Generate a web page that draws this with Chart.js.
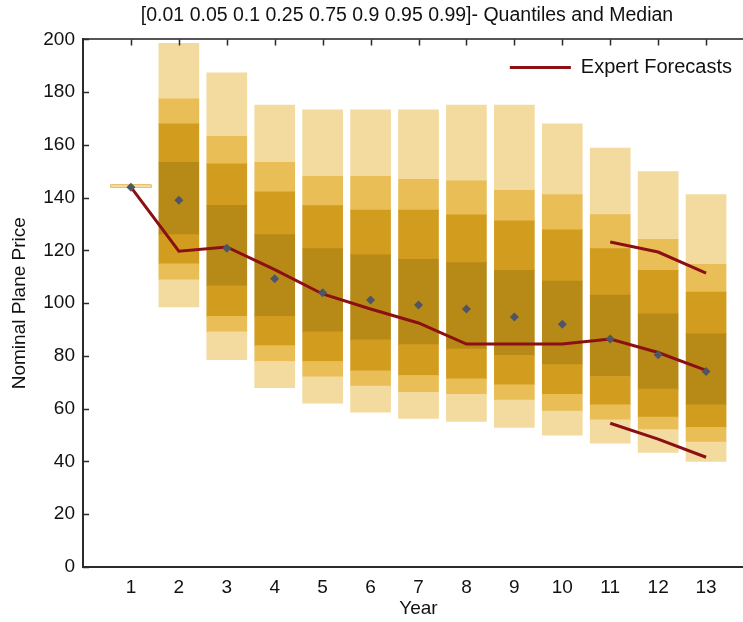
<!DOCTYPE html>
<html>
<head>
<meta charset="utf-8">
<script src="https://cdn.jsdelivr.net/npm/chart.js@4/dist/chart.umd.min.js"></script>
<style>
  html, body { margin: 0; padding: 0; background: #fff; overflow: hidden; }
  #marco { position: relative; width: 814px; height: 622px; }
</style>
</head>
<body>
<div id="marco"><canvas id="grafico"></canvas></div>
<script>
/* Datos */
var anios = [1, 2, 3, 4, 5, 6, 7, 8, 9, 10, 11, 12, 13];
var q01 = [144, 98.6, 78.6, 68.0, 62.1, 58.7, 56.3, 55.2, 52.9, 50.0, 46.9, 43.4, 40.0];
var q05 = [144, 108.9, 89.1, 77.9, 72.1, 68.6, 66.2, 65.5, 63.3, 59.1, 55.8, 52.1, 47.4];
var q10 = [144, 114.9, 95.0, 83.9, 77.9, 74.4, 72.6, 71.3, 69.1, 65.5, 61.5, 56.8, 52.9];
var q25 = [144, 126.0, 106.6, 95.0, 89.1, 86.1, 84.3, 82.6, 80.2, 76.7, 72.2, 67.4, 61.5];
var q75 = [144, 153.4, 137.1, 126.0, 120.7, 118.3, 116.6, 115.4, 112.5, 108.4, 103.1, 96.0, 88.4];
var q90 = [144, 168.0, 152.8, 142.2, 137.0, 135.3, 135.3, 133.5, 131.2, 127.8, 120.7, 112.5, 104.2];
var q95 = [144, 177.5, 163.3, 153.4, 148.1, 148.1, 147.0, 146.4, 142.8, 141.2, 133.6, 124.2, 114.7];
var q99 = [144, 198.5, 187.3, 175.1, 173.3, 173.3, 173.3, 175.1, 175.1, 168.0, 158.8, 149.9, 141.2];
var mediana = [144, 139.0, 120.8, 109.3, 104.0, 101.2, 99.3, 97.8, 94.8, 92.0, 86.4, 80.5, 74.1];

var expertos = [144, 119.7, 121.3, 112.7, 103.5, 97.8, 92.5, 84.5, 84.5, 84.5, 86.4, 81.3, 74.5];
var aniosBanda = [11, 12, 13];
var expertosAlto = [123.2, 119.4, 111.4];
var expertosBajo = [54.5, 48.5, 41.6];

var CLARO = '#F3DA9F';
var MEDIO_CLARO = '#E9BE57';
var MEDIO = '#D29D1E';
var OSCURO = '#B78A17';
var ROJO = '#8A1014';
var FUENTE = "'Liberation Sans', Arial, sans-serif";

function banda(bajo, alto) {
  var res = [];
  for (var i = 0; i < anios.length; i++) { res.push({ x: anios[i], y: [bajo[i], alto[i]] }); }
  return res;
}
function puntos(xs, ys) {
  var res = [];
  for (var i = 0; i < xs.length; i++) { res.push({ x: xs[i], y: ys[i] }); }
  return res;
}
function barra(etiqueta, datos, color) {
  return {
    type: 'bar', label: etiqueta, data: datos, backgroundColor: color,
    grouped: false, barThickness: 40, minBarLength: 2, borderWidth: 0, order: 2
  };
}
function linea(etiqueta, datos) {
  return {
    type: 'line', label: etiqueta, data: datos, borderColor: ROJO, backgroundColor: ROJO,
    borderWidth: 3, pointRadius: 0, tension: 0, fill: false, order: 1
  };
}

/* marcas hacia adentro en el eje izquierdo y el superior */
var marcasInternas = {
  id: 'marcasInternas',
  afterDraw: function (chart) {
    var ctx = chart.ctx, area = chart.chartArea;
    var ey = chart.scales.y, ex = chart.scales.x;
    ctx.save();
    ctx.strokeStyle = '#2b2b2b';
    ctx.lineWidth = 1.5;
    ctx.beginPath();
    ey.ticks.forEach(function (t) {
      var py = Math.round(ey.getPixelForValue(t.value)) + 0.5;
      ctx.moveTo(area.left, py); ctx.lineTo(area.left + 6, py);
    });
    anios.forEach(function (a) {
      var px = Math.round(ex.getPixelForValue(a)) + 0.5;
      ctx.moveTo(px, area.top); ctx.lineTo(px, area.top + 6);
    });
    ctx.stroke();
    ctx.restore();
  }
};

/* la leyenda va arriba a la derecha, dentro del area del grafico */
var leyendaDentro = {
  id: 'leyendaDentro',
  beforeDraw: function (chart) {
    var ley = chart.legend, area = chart.chartArea;
    if (!ley) { return; }
    var pad = ley.options.labels.padding;
    ley.left = area.right - 22 - ley.width + pad;
    ley.right = ley.left + ley.width;
    ley.top = area.top + 8;
    ley.bottom = ley.top + ley.height;
  }
};

new Chart(document.getElementById('grafico'), {
  type: 'bar',
  data: {
    datasets: [
      {
        type: 'line', label: 'Mediana', data: puntos(anios, mediana), showLine: false,
        pointStyle: 'rectRot', pointRadius: 4.5, pointBackgroundColor: '#4E5563',
        pointBorderWidth: 0, order: 0
      },
      linea('Expert Forecasts', puntos(anios, expertos)),
      linea('Expert Forecasts alto', puntos(aniosBanda, expertosAlto)),
      linea('Expert Forecasts bajo', puntos(aniosBanda, expertosBajo)),
      barra('0.01-0.05', banda(q01, q05), CLARO),
      barra('0.05-0.1', banda(q05, q10), MEDIO_CLARO),
      barra('0.1-0.25', banda(q10, q25), MEDIO),
      barra('0.25-0.75', banda(q25, q75), OSCURO),
      barra('0.75-0.9', banda(q75, q90), MEDIO),
      barra('0.9-0.95', banda(q90, q95), MEDIO_CLARO),
      barra('0.95-0.99', banda(q95, q99), CLARO)
    ]
  },
  options: {
    responsive: true,
    maintainAspectRatio: false,
    animation: false,
    layout: { padding: 0 },
    plugins: {
      title: {
        display: true,
        text: '[0.01 0.05 0.1 0.25 0.75 0.9 0.95 0.99]- Quantiles and Median',
        color: '#111',
        font: { family: FUENTE, size: 19.5, weight: 'normal' },
        padding: { top: 4, bottom: 12 }
      },
      legend: {
        position: 'chartArea',
        align: 'start',
        labels: {
          filter: function (item) { return item.text === 'Expert Forecasts'; },
          usePointStyle: true,
          pointStyle: 'line',
          pointStyleWidth: 61,
          color: '#111',
          font: { family: FUENTE, size: 20 },
          padding: 10
        }
      },
      tooltip: { enabled: false }
    },
    scales: {
      x: {
        type: 'linear', position: 'bottom', min: 0, max: 14, offset: false,
        grid: { display: false, drawTicks: false },
        border: { display: true, color: '#2b2b2b', width: 2 },
        ticks: {
          stepSize: 1, padding: 9, color: '#111', maxRotation: 0, autoSkip: false,
          font: { family: FUENTE, size: 19 },
          callback: function (v) { return (v >= 1 && v <= 13) ? String(v) : ''; }
        },
        title: {
          display: true, text: 'Year', color: '#111',
          font: { family: FUENTE, size: 19 }, padding: { top: 4, bottom: 2 }
        },
        afterFit: function (s) { s.height = 55; }
      },
      x2: {
        type: 'linear', position: 'top', min: 0, max: 14, offset: false,
        grid: { display: false, drawTicks: false },
        border: { display: true, color: '#555', width: 2 },
        ticks: { display: false },
        afterFit: function (s) { s.height = 0; }
      },
      y: {
        type: 'linear', min: 0, max: 200,
        grid: { display: false, drawTicks: false },
        border: { display: true, color: '#2b2b2b', width: 2 },
        ticks: {
          stepSize: 20, padding: 8, color: '#111',
          font: { family: FUENTE, size: 19 }
        },
        title: {
          display: true, text: 'Nominal Plane Price', color: '#111',
          font: { family: FUENTE, size: 19 }, padding: { top: 8, bottom: 0 }
        },
        afterFit: function (s) { s.width = 83; }
      },
      y2: {
        type: 'linear', position: 'right', min: 0, max: 200,
        grid: { display: false, drawTicks: false },
        border: { display: true, color: '#2b2b2b', width: 2 },
        ticks: { display: false },
        afterFit: function (s) { s.width = 60; }
      }
    }
  },
  plugins: [marcasInternas, leyendaDentro]
});
</script>
</body>
</html>
